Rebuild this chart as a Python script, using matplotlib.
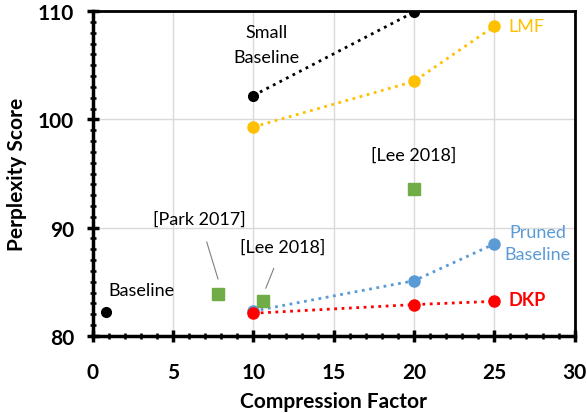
import matplotlib.pyplot as plt
from matplotlib.ticker import MultipleLocator

plt.rcParams['font.family'] = ['Lato', 'DejaVu Sans']

# series values
small_x = [10, 20]
small_y = [102.2, 109.9]
lmf_x = [10, 20, 25]
lmf_y = [99.3, 103.5, 108.6]
pruned_x = [10, 20, 25]
pruned_y = [82.3, 85.1, 88.5]
dkp_x = [10, 20, 25]
dkp_y = [82.1, 82.9, 83.2]
baseline_x = [0.85]
baseline_y = [82.25]
prior_x = [7.8, 10.6, 20]
prior_y = [83.85, 83.2, 93.55]

BLACK = '#000000'
GOLD = '#FFC000'
BLUE = '#5B9BD5'
RED = '#FF0000'
GREEN = '#70AD47'

fig = plt.figure(figsize=(5.87, 4.14), dpi=100)
ax = fig.add_axes([0.158, 0.186, 0.821, 0.785])

ax.plot(small_x, small_y, ':', color=BLACK, lw=2, marker='o', ms=7, zorder=3)
ax.plot(lmf_x, lmf_y, ':', color=GOLD, lw=2, marker='o', ms=8, zorder=3)
ax.plot(pruned_x, pruned_y, ':', color=BLUE, lw=2, marker='o', ms=8, zorder=3)
ax.plot(dkp_x, dkp_y, ':', color=RED, lw=2, marker='o', ms=8, zorder=4)
ax.plot(baseline_x, baseline_y, 'o', color=BLACK, ms=7, zorder=3)
ax.plot(prior_x, prior_y, 's', color=GREEN, ms=8, zorder=3)

ax.set_xlim(0, 30)
ax.set_ylim(80, 110)
ax.xaxis.set_major_locator(MultipleLocator(5))
ax.xaxis.set_minor_locator(MultipleLocator(1))
ax.yaxis.set_major_locator(MultipleLocator(10))
ax.yaxis.set_minor_locator(MultipleLocator(1))
ax.grid(True, which='major', color='#D9D9D9', lw=1)
ax.set_axisbelow(True)

for s in ['left', 'bottom']:
    ax.spines[s].set_linewidth(2.5)
for s in ['top', 'right']:
    ax.spines[s].set_linewidth(2)

ax.tick_params(which='major', direction='inout', length=9, width=2.5,
               labelsize=15, pad=9)
ax.tick_params(axis='x', which='major', pad=14)
ax.tick_params(which='minor', direction='inout', length=5, width=1.8)
for lbl in ax.get_xticklabels() + ax.get_yticklabels():
    lbl.set_fontweight('bold')

ax.set_xlabel('Compression Factor', fontsize=15, fontweight='bold', labelpad=7)
ax.set_ylabel('Perplexity Score', fontsize=15, fontweight='bold', labelpad=8)

# series labels
ax.text(10.8, 106.9, 'Small\nBaseline', ha='center', va='center', fontsize=13,
        linespacing=1.75)
ax.text(25.9, 108.6, 'LMF', ha='left', va='center', fontsize=13, color=GOLD)
ax.text(27.7, 88.6, 'Pruned\nBaseline', ha='center', va='center', fontsize=13,
        color=BLUE, linespacing=1.45)
ax.text(25.9, 83.35, 'DKP', ha='left', va='center', fontsize=13, color=RED,
        fontweight='bold')
ax.text(0.95, 84.2, 'Baseline', ha='left', va='center', fontsize=13)
ax.text(20, 96.7, '[Lee 2018]', ha='center', va='center', fontsize=13)

# callouts with leader lines for the earlier results
ax.annotate('[Park 2017]', xy=(7.8, 85.25), xytext=(6.66, 90.8),
            ha='center', va='center', fontsize=13,
            arrowprops=dict(arrowstyle='-', color='#7F7F7F', lw=0.8,
                            shrinkA=9, shrinkB=0))
ax.annotate('[Lee 2018]', xy=(10.77, 84.4), xytext=(11.8, 88.2),
            ha='center', va='center', fontsize=13,
            arrowprops=dict(arrowstyle='-', color='#7F7F7F', lw=0.8,
                            shrinkA=8, shrinkB=0))

fig.savefig('out.png', dpi=100)
